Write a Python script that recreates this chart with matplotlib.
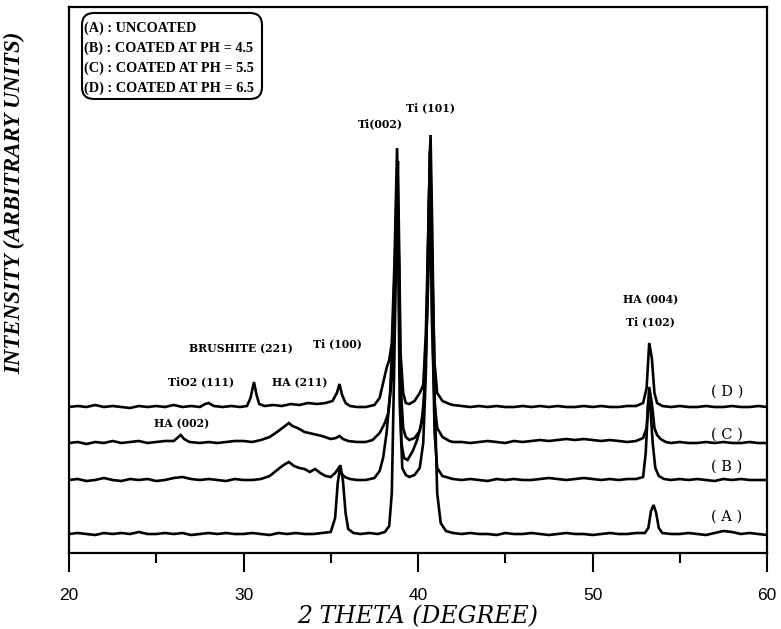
import matplotlib
matplotlib.use("Agg")
import matplotlib.pyplot as plt
from matplotlib.patches import FancyBboxPatch
from matplotlib.transforms import IdentityTransform

# --- data (intensity in arbitrary units, curves already offset) ---
flat_lo = [20 + 0.5 * i for i in range(30)]          # 20.0 .. 34.5
flat_mid = [42.5 + 0.5 * i for i in range(21)]       # 42.5 .. 52.5
flat_hi = [54.5 + 0.5 * i for i in range(12)]        # 54.5 .. 60.0

# (A) uncoated
xa = (flat_lo
      + [35.0, 35.25, 35.4, 35.55, 35.7, 35.85, 36.0, 36.3, 36.7, 37.2, 37.7, 38.1,
         38.35, 38.5, 38.65, 38.8, 38.85, 38.95, 39.05, 39.2, 39.4, 39.7, 39.95,
         40.2, 40.35, 40.5, 40.62, 40.72, 40.82, 40.95, 41.1, 41.3, 41.6, 42.0]
      + flat_mid
      + [53.0, 53.2, 53.35, 53.5, 53.65, 53.8, 54.0]
      + flat_hi)
ya = ([19, 20, 19, 18, 20, 19, 20, 19, 21, 19, 19, 20, 19, 20, 18,
       19, 20, 19, 20, 19, 19, 20, 19, 18, 20, 19, 20, 19, 19, 20]
      + [21, 35, 70, 88, 72, 40, 24, 20, 19, 20, 19, 21,
         27, 60, 200, 350, 392, 200, 110, 95, 93, 102, 113,
         130, 155, 230, 350, 418, 320, 160, 60, 30, 22, 20]
      + [19, 20, 19, 19, 18, 20, 19, 19, 20, 19, 18, 19, 20, 19, 19, 18, 19, 20, 19, 19, 20]
      + [20, 25, 42, 48, 40, 25, 20]
      + [19, 19, 20, 19, 18, 20, 22, 21, 19, 20, 19, 18])

# (B) coated at pH 4.5
xb = ([20 + 0.5 * i for i in range(21)]
      + [30.5, 31.0, 31.5, 32.0, 32.3, 32.6, 32.9, 33.2, 33.5, 33.8, 34.1, 34.4, 34.7,
         35.0, 35.25, 35.45, 35.6, 35.8, 36.1, 36.5, 37.0, 37.5, 37.8, 38.0, 38.2,
         38.4, 38.55, 38.7, 38.82, 38.95, 39.1, 39.3, 39.5, 39.8, 40.1, 40.3, 40.45,
         40.58, 40.68, 40.8, 40.95, 41.1, 41.4, 41.8, 42.0]
      + flat_mid
      + [52.9, 53.05, 53.2, 53.3, 53.45, 53.6, 53.8, 54.1]
      + flat_hi)
yb = ([73, 74, 72, 73, 75, 73, 72, 74, 73, 74, 72, 73, 75, 76, 74, 73, 74, 73, 72, 74, 73]
      + [73, 74, 77, 84, 88, 91, 87, 85, 84, 81, 84, 80, 77,
         76, 80, 85, 80, 76, 74, 73, 73, 75, 82, 95, 120,
         160, 220, 300, 382, 150, 85, 78, 76, 78, 85, 110, 180,
         300, 402, 250, 120, 85, 77, 75, 74]
      + [73, 74, 73, 72, 74, 73, 74, 73, 73, 74, 75, 74, 73, 74, 75, 74, 73, 74, 73, 74, 74]
      + [76, 100, 153, 150, 110, 85, 77, 74]
      + [73, 74, 73, 74, 73, 72, 74, 73, 74, 73, 73, 73])

# (C) coated at pH 5.5
xc = ([20 + 0.5 * i for i in range(12)]
      + [26.0, 26.2, 26.4, 26.6, 26.9, 27.5, 28.0, 28.5, 29.0, 29.5, 30.0, 30.5, 31.0,
         31.5, 32.0, 32.3, 32.6, 32.8, 33.1, 33.5, 34.0, 34.5, 35.0, 35.3, 35.5, 35.7,
         36.0, 36.5, 37.0, 37.4, 37.8, 38.1, 38.3, 38.5, 38.65, 38.78, 38.9, 39.0,
         39.15, 39.3, 39.5, 39.8, 40.1, 40.3, 40.45, 40.6, 40.7, 40.8, 40.95, 41.1,
         41.4, 41.8, 42.0]
      + flat_mid
      + [52.9, 53.1, 53.25, 53.4, 53.55, 53.7, 53.9, 54.2]
      + flat_hi)
yc = ([110, 111, 109, 111, 110, 112, 110, 111, 112, 110, 111, 112]
      + [112, 115, 118, 114, 111, 110, 111, 110, 111, 112, 112, 111, 113,
         116, 122, 126, 130, 127, 125, 121, 119, 117, 114, 115, 117, 114,
         112, 111, 111, 113, 120, 130, 140, 175, 260, 372, 300, 170,
         125, 116, 113, 115, 122, 140, 200, 280, 385, 230, 150, 125,
         116, 112, 111]
      + [111, 110, 111, 112, 111, 110, 112, 111, 112, 113, 112, 113, 114, 113, 114, 113, 112, 113, 112, 111, 112]
      + [115, 125, 166, 150, 125, 118, 114, 111]
      + [110, 111, 110, 110, 111, 110, 111, 110, 110, 111, 110, 110])

# (D) coated at pH 6.5
xd = ([20 + 0.5 * i for i in range(16)]
      + [27.8, 28.0, 28.3, 28.8, 29.3, 29.8, 30.2, 30.4, 30.6, 30.75, 30.9, 31.2, 31.7,
         32.2, 32.7, 33.2, 33.7, 34.2, 34.7, 35.1, 35.35, 35.5, 35.65, 35.85, 36.1,
         36.5, 37.0, 37.5, 37.8, 38.0, 38.2, 38.35, 38.5, 38.65, 38.8, 38.9, 39.0,
         39.15, 39.3, 39.5, 39.8, 40.1, 40.3, 40.45, 40.6, 40.7, 40.8, 40.95, 41.1,
         41.4, 41.8, 42.0]
      + flat_mid
      + [52.9, 53.1, 53.25, 53.4, 53.55, 53.7, 54.0]
      + flat_hi)
yd = ([146, 147, 146, 148, 146, 147, 146, 145, 147, 146, 147, 146, 148, 146, 147, 146]
      + [149, 150, 147, 146, 147, 146, 147, 155, 171, 158, 149, 147, 148,
         147, 149, 148, 150, 149, 150, 152, 160, 169, 158, 150, 147,
         146, 146, 148, 155, 170, 185, 193, 210, 290, 405, 330, 200,
         160, 150, 149, 152, 160, 168, 220, 330, 410, 300, 190, 160,
         152, 149, 148]
      + [147, 146, 147, 146, 147, 146, 146, 147, 146, 147, 146, 147, 146, 146, 147, 146, 147, 146, 146, 147, 147]
      + [150, 165, 210, 195, 160, 150, 147]
      + [146, 147, 146, 146, 147, 146, 146, 147, 146, 146, 147, 146])

curve_labels = ["( A )", "( B )", "( C )", "( D )"]
legend_lines = ["(A) : UNCOATED",
                "(B) : COATED AT PH = 4.5",
                "(C) : COATED AT PH = 5.5",
                "(D) : COATED AT PH = 6.5"]
peak_notes = [("Ti(002)", 37.82, 429), ("Ti (101)", 40.69, 445),
              ("BRUSHITE (221)", 29.86, 204), ("Ti (100)", 35.36, 209),
              ("TiO2 (111)", 27.56, 171), ("HA (211)", 33.24, 170),
              ("HA (002)", 26.48, 129), ("HA (004)", 53.35, 253),
              ("Ti (102)", 53.3, 231)]

fig = plt.figure(figsize=(7.81, 6.29), dpi=100)
ax = fig.add_axes([69 / 781, 76 / 629, 698 / 781, 546 / 629])

for x, y in [(xa, ya), (xb, yb), (xc, yc), (xd, yd)]:
    ax.plot(x, y, color="black", lw=1.9, solid_joinstyle="miter")

ax.set_xlim(20, 60)
ax.set_ylim(0, 546)
ax.set_yticks([])
ax.set_xticks([20, 30, 40, 50, 60])
ax.set_xticks([25, 35, 45, 55], minor=True)
ax.tick_params(axis="x", which="major", direction="out", length=14, width=1.5, pad=11,
               labelsize=12.5)
ax.tick_params(axis="x", which="minor", direction="out", length=7, width=1.5)
for lab in ax.get_xticklabels():
    lab.set_fontfamily("Liberation Sans")
for s in ax.spines.values():
    s.set_linewidth(1.6)

for lab, yy in zip(curve_labels, [36, 86, 118, 161]):
    ax.text(57.71, yy, lab, ha="center", va="center", fontsize=10.5,
            family="DejaVu Serif")

for txt, xx, yy in peak_notes:
    ax.text(xx, yy, txt, ha="center", va="center", fontsize=7.8,
            family="DejaVu Serif", fontweight="bold")

ax.set_xlabel("2 THETA (DEGREE)", fontsize=17, family="DejaVu Serif",
              style="italic", labelpad=2)
fig.text(15 / 781, 1 - 203 / 629, "INTENSITY (ARBITRARY UNITS)", rotation=90,
         ha="center", va="center", fontsize=16.5, family="Liberation Serif",
         style="italic", fontweight="bold")

# rounded legend box
box = FancyBboxPatch((85, 629 - 96), 174, 80, boxstyle="round,pad=3,rounding_size=12",
                     transform=IdentityTransform(), fill=False, lw=1.5, ec="black")
fig.patches.append(box)
for i, line in enumerate(legend_lines):
    fig.text(84 / 781, 1 - (28 + 20 * i) / 629, line, ha="left", va="center",
             fontsize=10.3, family="Liberation Serif", fontweight="bold")

fig.savefig("out.png", dpi=100)
